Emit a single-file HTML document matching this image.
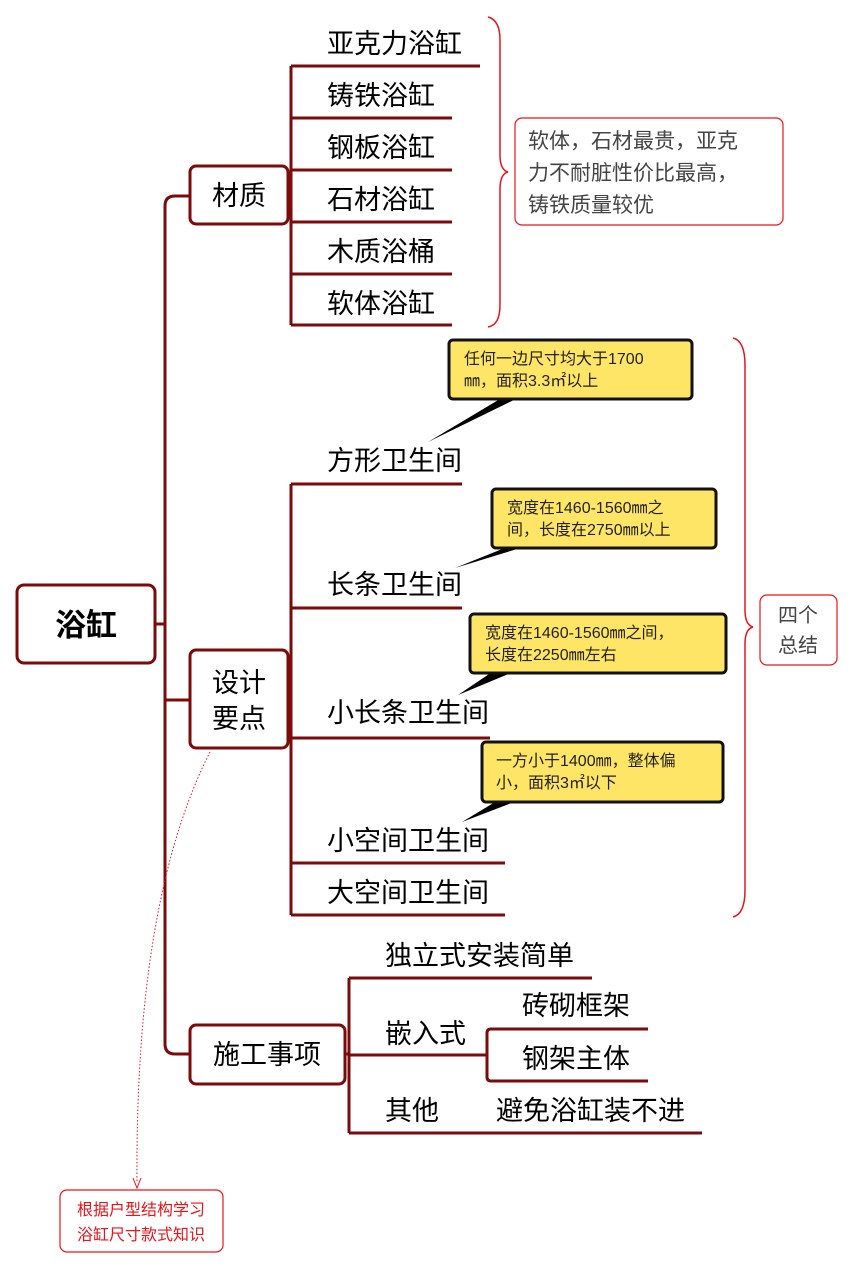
<!DOCTYPE html>
<html><head><meta charset="utf-8"><style>
html,body{margin:0;padding:0;background:#fff;}
svg{display:block;}
text{font-family:"Liberation Sans","Noto Sans CJK SC",sans-serif;}
</style></head><body>
<svg width="854" height="1269" viewBox="0 0 854 1269" xmlns="http://www.w3.org/2000/svg">
<g fill="none" stroke="#7b0a0a" stroke-width="3">
<!-- main trunk -->
<path d="M190 196 H175 Q165 196 165 206 V1044 Q165 1054 175 1054 H190"/>
<path d="M165 650 V700 H190"/>
<path d="M155 624 H165"/>
<!-- material branch -->
<path d="M288 196 H291"/>
<path d="M291 66 V325"/>
<path d="M291 66 H480 M291 118 H452 M291 170 H452 M291 222 H452 M291 274 H452 M291 325 H452"/>
<!-- design branch -->
<path d="M288 700 H291"/>
<path d="M291 484 V915"/>
<path d="M291 484 H462 M291 608 H462 M291 738 H490 M291 863 H505 M291 915 H505"/>
<!-- construction -->
<path d="M345 1054 H349"/>
<path d="M349 978 V1133"/>
<path d="M349 978 H592 M349 1055 H487 M349 1133 H702"/>
<path d="M648 1029 H491 Q487 1029 487 1033 V1077 Q487 1081 491 1081 H648"/>
</g>
<!-- boxes -->
<g fill="#fff" stroke="#7b0a0a" stroke-width="3">
<rect x="17" y="585" width="138" height="78" rx="7"/>
<rect x="190" y="166" width="98" height="58" rx="6"/>
<rect x="190" y="650" width="98" height="98" rx="6"/>
<rect x="190" y="1025" width="155" height="59" rx="6"/>
</g>
<g fill="#000" font-size="27">
<text x="86" y="636" font-size="31" font-weight="bold" text-anchor="middle">浴缸</text>
<text x="239" y="205" text-anchor="middle">材质</text>
<text x="239" y="692" text-anchor="middle">设计</text>
<text x="239" y="728" text-anchor="middle">要点</text>
<text x="267" y="1064" text-anchor="middle">施工事项</text>
<text x="327" y="53">亚克力浴缸</text>
<text x="327" y="105">铸铁浴缸</text>
<text x="327" y="157">钢板浴缸</text>
<text x="327" y="209">石材浴缸</text>
<text x="327" y="261">木质浴桶</text>
<text x="327" y="313">软体浴缸</text>
<text x="327" y="470">方形卫生间</text>
<text x="327" y="594">长条卫生间</text>
<text x="327" y="722">小长条卫生间</text>
<text x="327" y="850">小空间卫生间</text>
<text x="327" y="902">大空间卫生间</text>
<text x="385" y="965">独立式安装简单</text>
<text x="385" y="1043">嵌入式</text>
<text x="522" y="1015">砖砌框架</text>
<text x="522" y="1068">钢架主体</text>
<text x="385" y="1120">其他</text>
<text x="496" y="1120">避免浴缸装不进</text>
</g>
<!-- braces -->
<g fill="none" stroke="#e8141b" stroke-width="1.5">
<path d="M488 17 Q500 20 500 40 V155 Q500 170 508 172 Q500 174 500 189 V305 Q500 325 488 327"/>
<path d="M733 338 Q745 341 745 365 V610 Q745 625 753 627 Q745 629 745 644 V890 Q745 914 733 917"/>
<path d="M210 752 Q135 900 137 1182" stroke-dasharray="1.5 2" stroke-width="1"/>
<path d="M133 1178 L137 1188 L141 1178"  stroke-width="1"/>
</g>
<rect x="515" y="118" width="268" height="107" rx="7" fill="#fff" stroke="#e8141b" stroke-width="1.2"/>
<g fill="#444" font-size="21">
<text x="528" y="148">软体，石材最贵，亚克</text>
<text x="528" y="180">力不耐脏性价比最高，</text>
<text x="528" y="212">铸铁质量较优</text>
</g>
<rect x="760" y="595" width="77" height="70" rx="7" fill="#fff" stroke="#e8141b" stroke-width="1.2"/>
<g fill="#444" font-size="20">
<text x="798" y="622" text-anchor="middle">四个</text>
<text x="798" y="652" text-anchor="middle">总结</text>
</g>
<rect x="60" y="1190" width="163" height="62" rx="7" fill="#fff" stroke="#e8141b" stroke-width="1.2"/>
<g fill="#e8141b" font-size="16">
<text x="141" y="1215" text-anchor="middle">根据户型结构学习</text>
<text x="141" y="1240" text-anchor="middle">浴缸尺寸款式知识</text>
</g>
<!-- callouts -->
<g fill="#000">
<path d="M505 396 L428 442 L522 396 Z"/>
<path d="M512 545 L455 568 L530 545 Z"/>
<path d="M495 670 L458 695 L518 670 Z"/>
<path d="M500 799 L462 822 L522 799 Z"/>
</g>
<g fill="#ffe566" stroke="#111" stroke-width="3">
<rect x="449" y="340" width="243" height="59" rx="4"/>
<rect x="492" y="489" width="224" height="59" rx="4"/>
<rect x="470" y="614" width="256" height="59" rx="4"/>
<rect x="482" y="742" width="241" height="60" rx="4"/>
</g>
<g fill="#222" font-size="16">
<text x="464" y="364">任何一边尺寸均大于1700</text>
<text x="464" y="386">㎜，面积3.3㎡以上</text>
<text x="507" y="513">宽度在1460-1560㎜之</text>
<text x="507" y="535">间，长度在2750㎜以上</text>
<text x="485" y="638">宽度在1460-1560㎜之间，</text>
<text x="485" y="660">长度在2250㎜左右</text>
<text x="496" y="766">一方小于1400㎜，整体偏</text>
<text x="496" y="788">小，面积3㎡以下</text>
</g>
</svg>
</body></html>
